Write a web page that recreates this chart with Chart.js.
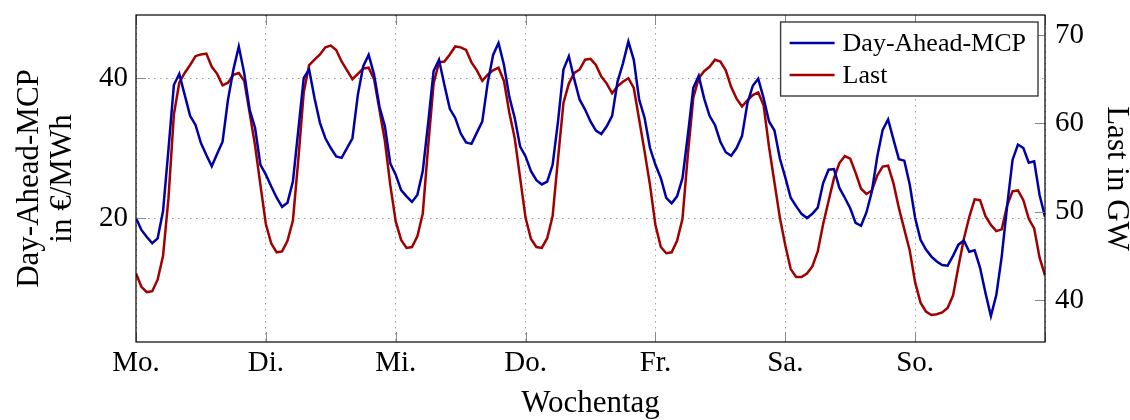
<!DOCTYPE html>
<html>
<head>
<meta charset="utf-8">
<script src="https://cdn.jsdelivr.net/npm/chart.js@4.4.1/dist/chart.umd.min.js"></script>
<style>
  html, body { margin: 0; padding: 0; background: #ffffff; }
  #wrap { width: 1130px; height: 420px; }
</style>
</head>
<body>
<div id="wrap"><canvas id="c" width="1130" height="420"></canvas></div>
<script>
// Weekday tick labels (one tick every 24 hours)
const DAY_LABELS = ['Mo.', 'Di.', 'Mi.', 'Do.', 'Fr.', 'Sa.', 'So.'];
const MCP_TICKS = [20, 40];
const LOAD_TICKS = [40, 50, 60, 70];
const SERIES_NAMES = ['Day-Ahead-MCP', 'Last'];

// Hourly day-ahead market clearing price, EUR/MWh (hour 0 .. 168)
const MCP = [
  20.0, 18.3, 17.3, 16.4, 17.1, 21.0, 29.8, 39.0, 40.6, 37.6,
  34.6, 33.3, 30.7, 29.0, 27.4, 29.2, 30.9, 36.9, 41.2, 44.5,
  40.7, 35.5, 32.9, 27.6, 26.2, 24.5, 22.9, 21.6, 22.2, 25.2,
  32.6, 40.0, 41.2, 37.1, 33.6, 31.4, 30.0, 28.8, 28.6, 30.0,
  31.4, 37.6, 41.7, 43.3, 40.5, 35.9, 33.1, 27.8, 26.2, 24.0,
  23.1, 22.3, 23.3, 26.7, 33.6, 41.0, 42.6, 39.0, 35.6, 34.3,
  32.1, 30.8, 30.6, 32.2, 33.8, 39.3, 43.3, 45.0, 41.9, 37.3,
  34.3, 30.2, 28.8, 26.7, 25.4, 24.8, 25.2, 27.6, 33.8, 41.2,
  43.1, 39.8, 36.9, 35.5, 33.8, 32.5, 32.0, 33.1, 34.6, 39.5,
  42.1, 45.2, 42.6, 36.9, 34.3, 30.0, 27.6, 25.7, 22.9, 22.1,
  23.1, 25.7, 31.9, 38.6, 40.3, 37.1, 34.6, 33.3, 30.9, 29.4,
  28.9, 30.0, 31.7, 36.4, 38.9, 39.9, 37.1, 33.8, 32.5, 28.5,
  25.8, 22.9, 21.7, 20.6, 20.0, 20.6, 21.5, 25.0, 26.9, 27.0,
  24.3, 22.9, 21.4, 19.3, 18.9, 20.8, 23.8, 28.8, 32.6, 34.1,
  31.2, 28.4, 28.2, 24.8, 20.0, 16.9, 15.5, 14.5, 13.8, 13.3,
  13.2, 14.6, 16.2, 16.8, 15.2, 15.4, 12.9, 9.3, 6.0, 9.0,
  14.5, 21.7, 28.3, 30.5, 30.0, 27.9, 28.1, 23.3, 20.2
];

// Hourly grid load, GW (hour 0 .. 168)
const LOAD = [
  43.0, 41.5, 40.9, 41.0, 42.3, 45.0, 51.5, 61.0, 64.6, 65.7,
  66.6, 67.6, 67.8, 67.9, 66.4, 65.6, 64.3, 64.6, 65.5, 65.7,
  64.8, 61.2, 57.5, 53.0, 48.6, 46.4, 45.4, 45.5, 46.7, 49.0,
  55.9, 63.5, 66.6, 67.2, 67.8, 68.6, 68.8, 68.3, 67.0, 66.0,
  65.0, 65.6, 66.2, 66.3, 65.0, 61.5, 58.0, 53.0, 48.9, 46.8,
  45.9, 46.0, 47.2, 49.8, 57.4, 64.5, 66.9, 67.0, 67.8, 68.7,
  68.6, 68.3, 66.9, 66.0, 64.8, 65.5, 66.0, 66.3, 64.8, 61.2,
  58.3, 53.8, 49.3, 46.9, 46.0, 45.9, 47.0, 49.5, 56.0, 62.3,
  64.5, 65.7, 66.1, 67.2, 67.3, 66.6, 65.3, 64.5, 63.4, 64.2,
  64.7, 65.1, 64.0, 60.4, 56.8, 53.0, 48.5, 46.0, 45.3, 45.4,
  46.7, 49.2, 56.5, 62.9, 65.1, 65.9, 66.4, 67.2, 67.0, 66.0,
  64.1, 62.8, 61.9, 62.6, 63.2, 63.5, 62.0, 57.3, 53.3, 49.3,
  46.2, 43.5, 42.6, 42.6, 43.0, 43.8, 45.5, 48.6, 51.2, 53.8,
  55.5, 56.3, 56.0, 54.4, 52.6, 52.0, 52.4, 54.1, 55.1, 55.2,
  53.2, 50.4, 48.0, 45.6, 42.0, 39.7, 38.7, 38.3, 38.4, 38.6,
  39.1, 40.5, 43.8, 46.9, 49.4, 51.4, 51.3, 49.5, 48.5, 47.8,
  48.0, 50.7, 52.3, 52.4, 51.3, 49.2, 48.1, 44.8, 42.8
];

const FONT = "'Liberation Serif', 'DejaVu Serif', serif";
const BLUE = '#0000a8';
const RED = '#a00000';
const GRID = '#9a9a9a';
const HOURS_PER_DAY = 24;

const toPoints = arr => arr.map((v, h) => ({ x: h, y: v }));

// Scales reserve no extra room for overhanging end labels
const noOverhang = s => {
  s.paddingTop = 0; s.paddingBottom = 0;
  s.paddingLeft = 0; s.paddingRight = 0;
};

// Plot frame, inward tick marks and a boxed legend in the upper right corner
const frameAndLegend = {
  id: 'frameAndLegend',
  afterDatasetsDraw(chart) {
    const { ctx, chartArea: a, scales } = chart;
    const tl = 10;
    ctx.save();
    ctx.strokeStyle = '#8a8a8a';
    ctx.lineWidth = 1;
    ctx.beginPath();
    scales.x.ticks.forEach(t => {
      const px = Math.round(scales.x.getPixelForValue(t.value)) + 0.5;
      ctx.moveTo(px, a.top); ctx.lineTo(px, a.top + tl);
      ctx.moveTo(px, a.bottom); ctx.lineTo(px, a.bottom - tl);
    });
    scales.y.ticks.forEach(t => {
      const py = Math.round(scales.y.getPixelForValue(t.value)) + 0.5;
      ctx.moveTo(a.left, py); ctx.lineTo(a.left + tl, py);
    });
    scales.y1.ticks.forEach(t => {
      const py = Math.round(scales.y1.getPixelForValue(t.value)) + 0.5;
      ctx.moveTo(a.right, py); ctx.lineTo(a.right - tl, py);
    });
    ctx.stroke();

    // frame
    ctx.strokeStyle = '#000000';
    ctx.lineWidth = 1.2;
    ctx.strokeRect(a.left, a.top, a.right - a.left, a.bottom - a.top);

    // legend
    ctx.font = '26px ' + FONT;
    const labels = chart.data.datasets.map(d => d.label);
    const textW = Math.max(...labels.map(l => ctx.measureText(l).width));
    const padL = 9, sample = 45, gap = 8, padR = 12, rowH = 32;
    const boxW = padL + sample + gap + textW + padR;
    const boxH = 74;
    const bx = a.right - 7 - boxW;
    const by = a.top + 7;
    ctx.fillStyle = '#ffffff';
    ctx.fillRect(bx, by, boxW, boxH);
    ctx.strokeStyle = '#3a3a3a';
    ctx.lineWidth = 1.4;
    ctx.strokeRect(bx, by, boxW, boxH);
    chart.data.datasets.forEach((d, i) => {
      const cy = by + 21 + i * rowH;
      ctx.strokeStyle = d.borderColor;
      ctx.lineWidth = 2.6;
      ctx.beginPath();
      ctx.moveTo(bx + padL, cy);
      ctx.lineTo(bx + padL + sample, cy);
      ctx.stroke();
      ctx.fillStyle = '#000000';
      ctx.textBaseline = 'middle';
      ctx.textAlign = 'left';
      ctx.fillText(d.label, bx + padL + sample + gap, cy + 1);
    });
    ctx.restore();
  }
};

const tickFont = { family: FONT, size: 29, lineHeight: 1.0 };
const titleFont = { family: FONT, size: 31, lineHeight: 1.05 };

new Chart(document.getElementById('c'), {
  type: 'line',
  data: {
    datasets: [
      {
        label: SERIES_NAMES[0],
        data: toPoints(MCP),
        yAxisID: 'y',
        borderColor: BLUE,
        backgroundColor: BLUE,
        borderWidth: 2.5,
        pointRadius: 0,
        tension: 0
      },
      {
        label: SERIES_NAMES[1],
        data: toPoints(LOAD),
        yAxisID: 'y1',
        borderColor: RED,
        backgroundColor: RED,
        borderWidth: 2.5,
        pointRadius: 0,
        tension: 0
      }
    ]
  },
  options: {
    responsive: false,
    animation: false,
    devicePixelRatio: 1,
    layout: { padding: { top: 15, left: 0, right: 0, bottom: 0 } },
    plugins: {
      legend: { display: false },
      tooltip: { enabled: false }
    },
    scales: {
      x: {
        type: 'linear',
        min: 0,
        max: DAY_LABELS.length * HOURS_PER_DAY,
        afterBuildTicks: s => {
          s.ticks = DAY_LABELS.map((_, i) => ({ value: i * HOURS_PER_DAY }))
            .concat([{ value: DAY_LABELS.length * HOURS_PER_DAY }]);
        },
        ticks: {
          callback: v => DAY_LABELS[v / HOURS_PER_DAY] ?? '',
          font: tickFont,
          color: '#000000',
          padding: 7,
          maxRotation: 0,
          autoSkip: false
        },
        grid: { color: GRID, lineWidth: 1, drawTicks: false },
        border: { display: false, dash: [1.5, 4.5] },
        title: {
          display: true,
          text: 'Wochentag',
          font: titleFont,
          color: '#000000',
          padding: { top: 0, bottom: 0 }
        },
        afterFit: s => { s.height = 78; noOverhang(s); }
      },
      y: {
        type: 'linear',
        position: 'left',
        min: 2.3,
        max: 49.0,
        afterBuildTicks: s => { s.ticks = MCP_TICKS.map(v => ({ value: v })); },
        ticks: { font: tickFont, color: '#000000', padding: 8 },
        grid: { color: GRID, lineWidth: 1, drawTicks: false },
        border: { display: false, dash: [1.5, 4.5] },
        title: {
          display: true,
          text: ['Day-Ahead-MCP', 'in €/MWh'],
          font: titleFont,
          color: '#000000',
          padding: { top: 14, bottom: 0 }
        },
        afterFit: s => { s.width = 136; noOverhang(s); }
      },
      y1: {
        type: 'linear',
        position: 'right',
        min: 35.25,
        max: 72.26,
        afterBuildTicks: s => { s.ticks = LOAD_TICKS.map(v => ({ value: v })); },
        ticks: { font: tickFont, color: '#000000', padding: 10 },
        grid: { drawOnChartArea: false, drawTicks: false },
        border: { display: false },
        title: {
          display: true,
          text: 'Last in GW',
          font: titleFont,
          color: '#000000',
          padding: { top: -2, bottom: 0 }
        },
        afterFit: s => { s.width = 85; noOverhang(s); }
      }
    }
  },
  plugins: [frameAndLegend]
});
</script>
</body>
</html>
